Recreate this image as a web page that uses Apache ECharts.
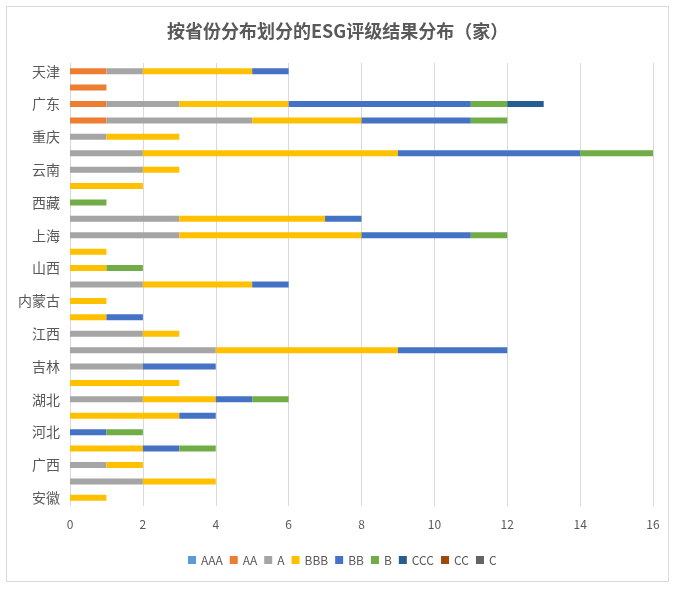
<!DOCTYPE html>
<html><head><meta charset="utf-8">
<script src="https://cdn.jsdelivr.net/npm/echarts@6/dist/echarts.min.js"></script>
<style>
html,body{margin:0;padding:0;background:#fff;}
#frame{position:absolute;left:6px;top:6px;width:663px;height:576px;border:1px solid #d9d9d9;box-sizing:border-box;}
#main{position:absolute;left:0;top:0;width:689px;height:590px;}
</style></head>
<body>
<div id="frame"></div>
<div id="main"></div>
<script>
// categories from bottom to top
const provinces = ['安徽','福建','广西','贵州','河北','河南','湖北','湖南','吉林','江苏','江西','辽宁','内蒙古','宁夏','山西','陕西','上海','四川','西藏','新疆','云南','浙江','重庆','北京','广东','山东','天津'];
const ratings = ['AAA','AA','A','BBB','BB','B','CCC','CC','C'];
const colors = ['#5B9BD5','#ED7D31','#A5A5A5','#FFC000','#4472C4','#70AD47','#255E91','#9E480E','#636363'];
const AAA = [0,0,0,0,0,0,0,0,0,0,0,0,0,0,0,0,0,0,0,0,0,0,0,0,0,0,0];
const AA  = [0,0,0,0,0,0,0,0,0,0,0,0,0,0,0,0,0,0,0,0,0,0,0,1,1,1,1];
const A   = [0,2,1,0,0,0,2,0,2,4,2,0,0,2,0,0,3,3,0,0,2,2,1,4,2,0,1];
const BBB = [1,2,1,2,0,3,2,3,0,5,1,1,1,3,1,1,5,4,0,2,1,7,2,3,3,0,3];
const BB  = [0,0,0,1,1,1,1,0,2,3,0,1,0,1,0,0,3,1,0,0,0,5,0,3,5,0,1];
const B   = [0,0,0,1,1,0,1,0,0,0,0,0,0,0,1,0,1,0,1,0,0,2,0,1,1,0,0];
const CCC = [0,0,0,0,0,0,0,0,0,0,0,0,0,0,0,0,0,0,0,0,0,0,0,0,1,0,0];
const CC  = [0,0,0,0,0,0,0,0,0,0,0,0,0,0,0,0,0,0,0,0,0,0,0,0,0,0,0];
const C   = [0,0,0,0,0,0,0,0,0,0,0,0,0,0,0,0,0,0,0,0,0,0,0,0,0,0,0];
const values = [AAA,AA,A,BBB,BB,B,CCC,CC,C];

const font = '"Noto Sans CJK SC","Microsoft YaHei",sans-serif';
const chart = echarts.init(document.getElementById('main'));
chart.setOption({
  animation:false,
  color: colors,
  textStyle:{fontFamily:font},
  title:{text:'按省份分布划分的ESG评级结果分布（家）',left:162,top:17,
    textStyle:{fontSize:18,fontWeight:'bold',color:'#595959',fontFamily:font}},
  grid:{left:70,right:36,top:63,bottom:84},
  legend:{left:183,top:549,itemWidth:8,itemHeight:8,itemGap:7,icon:'rect',
    textStyle:{fontSize:12,color:'#595959',fontFamily:font},data:ratings},
  xAxis:{type:'value',min:0,max:16,interval:2,
    axisLine:{show:false},axisTick:{show:false},
    axisLabel:{color:'#595959',fontSize:12,margin:12},
    splitLine:{lineStyle:{color:'#d9d9d9',width:1}}},
  yAxis:{type:'category',data:provinces,
    axisLine:{show:false},axisTick:{show:false},
    axisLabel:{interval:1,color:'#595959',fontSize:14,margin:10}},
  series: ratings.map((r,i)=>({name:r,type:'bar',stack:'total',barWidth:6,
    data:values[i],itemStyle:{color:colors[i]}}))
});
</script>
</body></html>
